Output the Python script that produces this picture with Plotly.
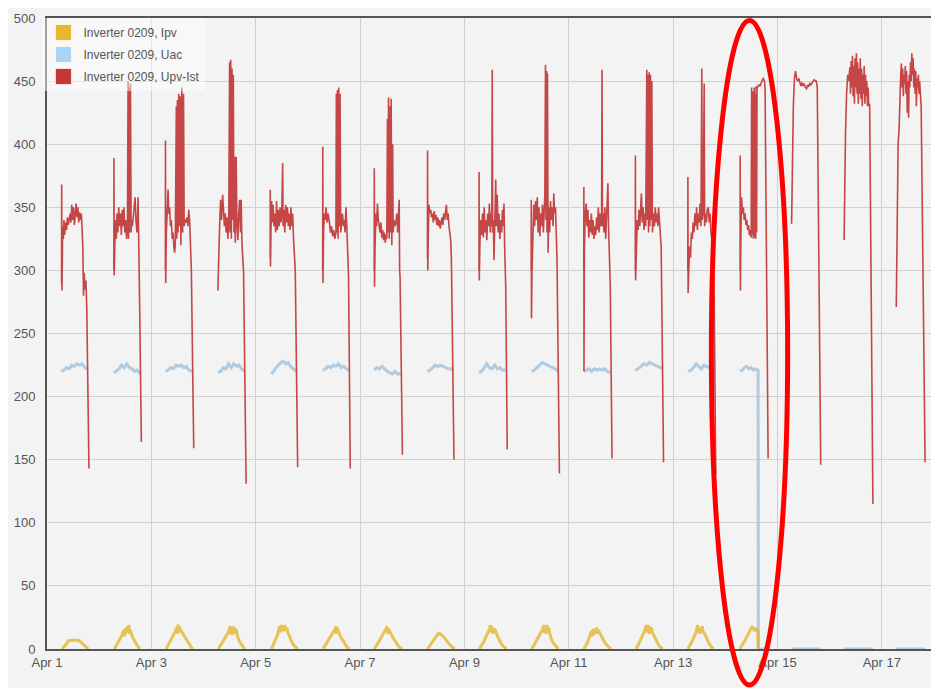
import pandas as pd
import plotly.graph_objects as go

DAYS = [f"2014-04-{d:02d}" for d in range(1, 18)]

# Inverter 0209, Upv-Ist: per-day sample hours and values (V)
upv_hours = [
    [6.70, 6.75, 6.85, 7.0, 7.2, 7.5, 7.8, 8.1, 8.5, 9.0, 9.4, 9.8, 10.2, 10.6, 11.0, 11.4, 11.8, 12.2, 12.6, 13.0, 13.4, 13.8, 14.2, 14.6, 15.0, 15.4, 15.8, 16.2, 16.5, 16.8, 17.1, 17.5, 17.9, 18.3, 19.3],
    [6.75, 6.8, 6.9, 7.2, 7.6, 7.9, 8.2, 8.6, 9.0, 9.4, 9.8, 10.2, 10.6, 11.0, 11.4, 11.8, 12.2, 12.6, 13.0, 13.3, 13.5, 13.7, 13.9, 14.1, 14.4, 14.7, 14.9, 15.3, 15.7, 16.1, 16.5, 16.9, 17.4, 17.9, 18.3, 18.7, 19.4],
    [6.45, 6.5, 6.6, 6.9, 7.3, 7.7, 8.0, 8.4, 8.8, 9.2, 9.6, 10.0, 10.4, 10.7, 11.0, 11.5, 11.7, 12.0, 12.3, 12.6, 12.9, 13.3, 13.6, 14.0, 14.4, 14.8, 15.1, 15.5, 16.0, 16.4, 16.8, 17.2, 17.6, 18.0, 18.4, 19.5],
    [6.6, 6.8, 7.0, 7.4, 7.85, 8.3, 8.8, 9.2, 9.6, 10.0, 10.4, 10.8, 11.2, 11.6, 12.0, 12.2, 12.5, 12.8, 13.1, 13.4, 13.7, 14.0, 14.3, 14.6, 15.0, 15.4, 15.8, 16.2, 16.6, 17.0, 17.3, 17.7, 18.1, 18.4, 19.6],
    [6.65, 6.7, 6.8, 7.0, 7.3, 7.6, 8.0, 8.4, 8.8, 9.2, 9.6, 10.0, 10.4, 10.8, 11.2, 11.6, 12.0, 12.4, 12.6, 13.0, 13.4, 13.8, 14.2, 14.6, 15.0, 15.4, 15.8, 16.2, 16.6, 17.0, 17.4, 17.8, 18.2, 19.3],
    [6.8, 6.85, 6.95, 7.2, 7.6, 8.0, 8.35, 8.8, 9.3, 9.9, 10.4, 10.9, 11.4, 11.9, 12.4, 12.9, 13.1, 13.3, 13.6, 13.9, 14.2, 14.5, 14.8, 15.1, 15.5, 15.9, 16.3, 16.7, 17.1, 17.5, 17.9, 18.3, 18.7, 19.5],
    [6.5, 6.55, 6.65, 6.9, 7.3, 7.6, 8.0, 8.4, 8.8, 9.2, 9.6, 10.0, 10.4, 10.8, 11.2, 11.6, 12.0, 12.3, 12.6, 12.8, 13.1, 13.4, 13.7, 14.0, 14.3, 14.6, 15.0, 15.2, 15.6, 16.0, 16.5, 16.9, 17.3, 17.7, 18.0, 18.2, 18.4, 19.5],
    [7.0, 7.05, 7.15, 7.4, 7.7, 8.1, 8.5, 8.9, 9.3, 9.7, 10.1, 10.5, 10.9, 11.3, 11.7, 12.1, 12.5, 12.9, 13.3, 13.7, 14.1, 14.5, 14.9, 15.3, 15.7, 16.1, 16.5, 16.9, 17.3, 17.7, 18.0, 19.2],
    [6.7, 6.75, 6.85, 7.1, 7.5, 7.9, 8.3, 8.7, 9.1, 9.5, 9.9, 10.3, 10.7, 11.1, 11.5, 11.9, 12.3, 12.6, 12.8, 13.0, 13.3, 13.6, 14.0, 14.4, 14.7, 15.1, 15.5, 15.9, 16.3, 16.7, 17.1, 17.5, 17.9, 18.2, 18.5, 19.0, 19.7],
    [6.7, 6.75, 6.85, 7.1, 7.5, 7.9, 8.3, 8.7, 9.1, 9.5, 9.9, 10.3, 10.7, 11.1, 11.5, 11.9, 12.3, 12.7, 13.0, 13.3, 13.5, 13.8, 14.0, 14.2, 14.5, 14.8, 15.2, 15.6, 16.0, 16.4, 16.8, 17.1, 17.5, 17.9, 18.3, 18.6, 19.7],
    [6.9, 6.95, 7.0, 7.2, 7.6, 8.0, 8.4, 8.8, 9.2, 9.6, 10.0, 10.4, 10.8, 11.2, 11.6, 12.0, 12.4, 12.8, 13.2, 13.6, 14.0, 14.4, 14.8, 15.1, 15.3, 15.5, 15.8, 16.2, 16.6, 17.0, 17.4, 17.8, 18.0, 18.3, 18.7, 19.1, 19.9],
    [6.6, 6.65, 6.75, 7.1, 7.5, 7.9, 8.3, 8.7, 9.0, 9.4, 9.8, 10.2, 10.6, 11.0, 11.4, 11.9, 12.1, 12.4, 12.7, 13.0, 13.3, 13.6, 13.9, 14.2, 14.5, 15.0, 15.4, 15.8, 16.2, 16.6, 17.0, 17.3, 17.7, 18.1, 18.5, 18.8, 19.6],
    [6.75, 6.8, 6.9, 7.2, 7.6, 8.0, 8.4, 8.8, 9.2, 9.6, 10.0, 10.4, 10.8, 11.2, 11.6, 12.0, 12.4, 12.8, 13.2, 13.4, 13.8, 14.3, 14.5, 14.9, 15.3, 15.7, 16.2, 16.6, 17.0, 17.4, 17.8, 18.2, 18.5, 18.9, 19.6],
    [6.8, 6.85, 6.95, 7.2, 7.5, 7.9, 8.3, 8.7, 9.1, 9.5, 9.9, 10.3, 10.7, 11.1, 11.5, 11.9, 12.1, 12.3, 12.7, 12.9, 13.3, 13.5, 13.8, 14.0, 14.2, 14.4, 14.6, 15.0, 15.5, 16.0, 16.5, 17.0, 17.5, 18.0, 18.3, 19.7],
    [6.5, 6.9, 7.3, 7.8, 8.3, 8.8, 9.3, 9.8, 10.3, 10.8, 11.3, 11.8, 12.3, 12.8, 13.4, 13.9, 14.4, 14.9, 15.4, 15.9, 16.4, 16.9, 17.4, 17.9, 18.3, 19.9],
    [6.65, 7.0, 7.3, 7.8, 8.3, 8.8, 9.3, 9.6, 9.9, 10.2, 10.5, 10.8, 11.1, 11.4, 11.7, 12.0, 12.3, 12.6, 12.9, 13.2, 13.5, 13.8, 14.1, 14.4, 14.7, 15.0, 15.3, 15.6, 15.9, 16.2, 16.5, 16.8, 17.1, 17.4, 17.7, 18.0, 18.4, 19.9],
    [6.65, 6.9, 7.2, 7.5, 7.9, 8.3, 8.7, 9.0, 9.3, 9.6, 9.9, 10.2, 10.5, 10.8, 11.1, 11.4, 11.7, 12.0, 12.3, 12.6, 12.9, 13.2, 13.5, 13.8, 14.1, 14.4, 14.7, 15.0, 15.3, 15.6, 15.9, 16.2, 16.5, 16.8, 17.1, 17.4, 17.8, 18.1, 19.9],
]
upv_values = [
    [290, 368, 284, 300, 335, 325, 340, 328, 338, 332, 342, 336, 340, 345, 338, 352, 340, 350, 336, 347, 353, 342, 350, 338, 346, 340, 345, 330, 318, 280, 298, 285, 292, 270, 143],
    [300, 389, 296, 320, 340, 325, 345, 330, 350, 335, 345, 328, 348, 335, 350, 330, 340, 325, 335, 450, 325, 445, 330, 440, 448, 330, 340, 335, 345, 350, 358, 340, 330, 358, 290, 262, 164],
    [300, 403, 290, 330, 355, 364, 345, 350, 335, 340, 325, 330, 318, 314, 320, 430, 325, 435, 330, 440, 335, 438, 320, 445, 330, 440, 335, 340, 338, 342, 335, 348, 340, 308, 300, 159],
    [284, 300, 314, 335, 356, 340, 360, 350, 335, 345, 330, 342, 325, 340, 465, 330, 467, 325, 460, 340, 455, 330, 390, 322, 390, 335, 324, 345, 356, 330, 356, 320, 303, 300, 131],
    [310, 364, 303, 330, 355, 338, 352, 335, 345, 330, 355, 332, 348, 335, 350, 338, 345, 385, 335, 348, 330, 352, 338, 350, 335, 345, 332, 350, 335, 345, 325, 308, 300, 144],
    [300, 398, 290, 330, 345, 340, 350, 338, 345, 338, 330, 335, 327, 332, 325, 330, 440, 330, 443, 325, 445, 335, 440, 330, 340, 345, 335, 340, 330, 350, 335, 320, 295, 143],
    [300, 381, 287, 320, 345, 335, 353, 340, 335, 330, 338, 326, 332, 324, 330, 322, 328, 325, 420, 330, 437, 325, 430, 330, 436, 320, 400, 330, 340, 335, 338, 345, 330, 350, 356, 300, 295, 154],
    [310, 395, 300, 330, 352, 345, 348, 342, 345, 338, 347, 340, 344, 336, 342, 335, 340, 333, 338, 342, 336, 345, 340, 348, 352, 340, 345, 335, 330, 324, 310, 150],
    [300, 378, 292, 320, 340, 328, 345, 326, 350, 330, 340, 324, 345, 335, 353, 330, 345, 335, 459, 330, 340, 308, 350, 372, 335, 360, 330, 345, 325, 340, 330, 348, 335, 353, 320, 287, 158],
    [300, 356, 262, 300, 340, 352, 335, 355, 340, 358, 330, 350, 327, 345, 335, 352, 330, 345, 360, 463, 340, 458, 330, 456, 314, 350, 330, 355, 340, 350, 335, 361, 345, 350, 330, 308, 139],
    [300, 366, 220, 318, 345, 353, 335, 348, 326, 340, 330, 345, 328, 340, 325, 335, 328, 342, 332, 350, 330, 345, 335, 340, 459, 335, 345, 330, 350, 325, 340, 360, 369, 335, 314, 287, 151],
    [300, 391, 292, 315, 340, 332, 348, 335, 345, 361, 338, 350, 332, 345, 335, 459, 340, 455, 330, 457, 335, 455, 340, 450, 330, 345, 335, 350, 338, 345, 335, 350, 340, 330, 319, 274, 148],
    [300, 374, 282, 300, 319, 310, 330, 325, 338, 330, 345, 335, 350, 332, 345, 338, 353, 335, 460, 340, 345, 448, 335, 345, 338, 348, 350, 338, 345, 330, 325, 312, 306, 277, 139],
    [300, 391, 284, 330, 358, 345, 350, 340, 345, 336, 340, 332, 336, 328, 332, 326, 445, 328, 442, 325, 445, 326, 440, 325, 446, 330, 444, 446, 447, 446, 449, 451, 452, 450, 445, 151],
    [337, 400, 430, 452, 458, 452, 450, 452, 448, 446, 449, 446, 448, 445, 444, 447, 446, 448, 447, 449, 450, 451, 450, 450, 445, 146],
    [324, 380, 409, 440, 455, 450, 461, 440, 466, 445, 470, 438, 462, 432, 468, 445, 472, 440, 465, 432, 460, 440, 468, 436, 460, 430, 455, 440, 462, 432, 455, 438, 450, 430, 445, 430, 432, 115],
    [271, 330, 395, 401, 410, 440, 455, 464, 445, 460, 438, 455, 448, 462, 440, 458, 425, 450, 421, 455, 445, 465, 450, 472, 455, 468, 445, 460, 440, 458, 430, 452, 445, 455, 440, 450, 435, 430, 148],
]

# Inverter 0209, Uac (V)
uac_hours = [
    [6.6, 7.8, 9.0, 10.2, 11.4, 12.6, 13.8, 15.0, 16.2, 17.4, 18.8],
    [6.7, 7.9, 9.1, 10.3, 11.5, 12.7, 13.9, 15.1, 16.3, 17.5, 18.9],
    [6.5, 7.7, 8.9, 10.1, 11.3, 12.5, 13.7, 14.9, 16.1, 17.3, 18.9],
    [6.7, 7.9, 9.1, 10.3, 11.5, 12.7, 13.9, 15.1, 16.3, 17.5, 19.0],
    [7.2, 8.3, 9.4, 10.5, 11.6, 12.7, 13.8, 14.9, 16.0, 17.2, 18.9],
    [6.9, 8.1, 9.3, 10.5, 11.7, 12.9, 14.1, 15.3, 16.5, 17.7, 19.0],
    [6.5, 7.7, 8.9, 10.1, 11.3, 12.5, 13.7, 14.9, 16.1, 17.3, 19.0],
    [7.0, 8.2, 9.4, 10.6, 11.8, 13.0, 14.2, 15.4, 16.6, 17.8, 19.0],
    [6.7, 7.9, 9.1, 10.3, 11.5, 12.7, 13.9, 15.1, 16.3, 17.5, 18.9],
    [7.0, 8.2, 9.4, 10.6, 11.8, 13.0, 14.2, 15.4, 16.6, 17.8, 19.2],
    [6.9, 8.1, 9.3, 10.5, 11.7, 12.9, 14.1, 15.3, 16.5, 17.7, 19.1],
    [6.6, 7.9, 9.2, 10.5, 11.8, 13.1, 14.4, 15.7, 17.0, 18.2, 19.4],
    [7.0, 8.2, 9.4, 10.6, 11.8, 13.0, 14.2, 15.4, 16.6, 17.8, 19.2],
    [6.8, 7.8, 8.8, 9.8, 10.8, 11.8, 12.8, 13.8, 15.1, 15.2, 19.0],
    [6.6, 19.9],
    [6.5, 19.9],
    [6.4, 19.9],
]
uac_values = [
    [220, 221, 223, 222, 225, 224, 226, 225, 226, 223, 222],
    [219, 220, 222, 225, 223, 226, 223, 222, 220, 221, 218],
    [220, 221, 223, 222, 225, 224, 225, 223, 224, 221, 220],
    [219, 220, 223, 222, 226, 223, 226, 224, 225, 222, 220],
    [218, 220, 223, 225, 227, 228, 226, 227, 224, 222, 220],
    [221, 222, 224, 223, 225, 224, 226, 223, 224, 222, 221],
    [221, 223, 222, 224, 222, 220, 219, 218, 220, 218, 218],
    [220, 221, 223, 225, 224, 225, 224, 223, 222, 222, 221],
    [219, 220, 223, 226, 223, 222, 225, 222, 223, 221, 221],
    [220, 221, 223, 225, 227, 226, 225, 224, 223, 222, 220],
    [220, 221, 222, 220, 222, 221, 222, 221, 222, 220, 219],
    [221, 222, 224, 226, 225, 227, 226, 225, 224, 223, 222],
    [220, 221, 223, 226, 224, 222, 225, 224, 223, 222, 221],
    [220, 221, 223, 224, 222, 223, 221, 222, 221, 0, 0],
    [0, 0],
    [0, 0],
    [0, 0],
]

# Inverter 0209, Ipv (A) - only until the failure on Apr 14
ipv_hours = [
    [7.0, 8.0, 9.0, 10.0, 11.0, 12.0, 13.0, 14.0, 15.0, 16.0, 17.0, 18.0, 19.0],
    [7.0, 8.0, 9.0, 10.0, 10.8, 11.3, 11.6, 11.9, 12.2, 12.5, 12.8, 13.1, 13.4, 13.7, 14.0, 14.4, 15.0, 16.0, 17.0, 18.0, 18.8],
    [6.8, 8.0, 9.0, 10.0, 11.0, 11.5, 11.8, 12.1, 12.4, 12.7, 13.0, 13.3, 13.6, 14.5, 15.5, 16.5, 17.5, 18.5, 19.2],
    [6.8, 8.0, 9.0, 10.0, 11.0, 11.8, 12.2, 12.5, 12.8, 13.1, 13.5, 13.8, 14.2, 14.6, 15.0, 15.6, 16.5, 17.5, 18.5, 19.0],
    [7.2, 8.0, 9.0, 10.0, 10.6, 11.0, 11.4, 11.8, 12.2, 12.6, 13.0, 13.4, 13.8, 14.3, 14.8, 15.5, 16.5, 17.5, 18.5, 19.3],
    [6.9, 8.0, 9.0, 10.0, 11.0, 12.0, 12.6, 12.9, 13.1, 13.4, 14.0, 15.0, 16.0, 17.0, 18.0, 19.1],
    [6.6, 8.0, 9.0, 10.0, 11.0, 11.8, 12.2, 12.5, 12.8, 13.1, 13.6, 14.5, 15.5, 16.5, 17.5, 18.5, 19.3],
    [7.0, 8.0, 9.0, 10.0, 11.0, 12.0, 13.0, 14.0, 15.0, 16.0, 17.0, 18.0, 19.5],
    [6.8, 8.0, 9.0, 10.0, 11.0, 11.6, 11.9, 12.2, 12.5, 12.8, 13.1, 13.4, 13.8, 14.2, 15.0, 16.0, 17.0, 18.0, 19.4],
    [7.0, 8.0, 9.0, 10.0, 11.0, 11.8, 12.2, 12.5, 12.8, 13.1, 13.5, 13.9, 14.3, 14.8, 15.3, 16.0, 17.0, 18.0, 19.2],
    [6.8, 8.0, 9.0, 10.0, 10.4, 10.8, 11.2, 11.6, 12.0, 12.4, 12.8, 13.2, 13.6, 14.2, 15.0, 16.0, 17.0, 18.0, 19.4],
    [7.0, 8.0, 9.0, 10.0, 11.0, 11.6, 11.9, 12.2, 12.5, 12.8, 13.1, 13.5, 13.9, 14.5, 15.5, 16.5, 17.5, 18.5, 19.2],
    [6.8, 8.0, 9.0, 10.0, 10.8, 11.2, 11.5, 11.8, 12.1, 12.5, 12.9, 13.3, 13.7, 14.5, 15.5, 16.5, 17.5, 18.4],
    [6.6, 8.0, 9.0, 10.0, 11.0, 12.0, 12.4, 12.8, 13.2, 13.6, 14.0, 14.5, 15.0, 15.2],
]
ipv_values = [
    [0, 2, 4.5, 6.5, 7, 7, 7.5, 7, 6.5, 5, 3, 1.5, 0],
    [0, 3, 6, 9, 12, 15, 10, 16, 12, 17, 13, 18, 14, 19, 12, 15, 11, 7, 4, 1.5, 0],
    [0, 4, 7, 11, 14, 17, 12, 18, 19, 14, 18, 13, 15, 12, 9, 6, 3, 1, 0],
    [0, 3, 6, 9, 12, 15, 18, 12, 17, 11, 18, 13, 17, 12, 16, 10, 6, 3, 1, 0],
    [0, 3, 7, 11, 15, 18, 13, 19, 15, 18, 14, 19, 15, 17, 13, 10, 6, 3, 1, 0],
    [0, 3, 6, 9, 12, 15, 16, 18, 12, 17, 14, 10, 7, 4, 1.5, 0],
    [0, 3.5, 7, 10, 13, 15, 17, 16.5, 12, 16, 14, 11, 8, 5, 2.5, 1, 0],
    [0, 2.5, 5, 8, 10.5, 12.4, 12, 10.5, 8.5, 6, 4, 2, 0],
    [0, 3, 6, 10, 14, 16, 19, 13, 18, 14, 17, 12, 16, 15, 11, 7, 4, 2, 0],
    [0, 3, 6, 9, 12, 15, 17, 19, 13, 18, 12, 19, 14, 17, 12, 8, 4.5, 2, 0],
    [0, 3, 7, 11, 14, 10, 16, 11, 15, 13, 17, 12, 15, 13, 10, 7, 4, 2, 0],
    [0, 3, 7, 11, 15, 19, 13, 18, 14, 19, 12, 16, 17, 13, 9, 5, 2.5, 1, 0],
    [0, 3.5, 7, 11, 15, 19, 13, 17, 12, 16, 13, 18, 14, 12, 8, 4.5, 2, 0],
    [0, 3.5, 6.5, 10, 13, 16, 18, 15, 17, 14, 17, 15, 14, 0],
]

LEGEND_NAMES = ["Inverter 0209, Ipv", "Inverter 0209, Uac", "Inverter 0209, Upv-Ist"]
SWATCH_COLORS = ["#e8b632", "#a9d4f5", "#c63636"]

IPV_LINE = "rgba(228,182,45,0.8)"
UAC_LINE = "rgba(165,195,220,0.85)"
UPV_LINE = "#c44646"
GRID = "#d0d0d0"
AXIS = "#555555"
FONT = "Liberation Sans, Arial, sans-serif"


def day_series(days, hours, values):
    xs, ys = [], []
    for day, hs, vs in zip(days, hours, values):
        base = pd.Timestamp(day)
        xs += [base + pd.Timedelta(hours=h) for h in hs] + [None]
        ys += list(vs) + [None]
    return xs, ys


fig = go.Figure()

x, y = day_series(DAYS, uac_hours, uac_values)
fig.add_trace(go.Scatter(x=x, y=y, mode="lines", line=dict(color=UAC_LINE, width=3),
                         showlegend=False, hoverinfo="skip"))
x, y = day_series(DAYS[:14], ipv_hours, ipv_values)
fig.add_trace(go.Scatter(x=x, y=y, mode="lines", line=dict(color=IPV_LINE, width=3),
                         showlegend=False, hoverinfo="skip"))
x, y = day_series(DAYS, upv_hours, upv_values)
fig.add_trace(go.Scatter(x=x, y=y, mode="lines", line=dict(color=UPV_LINE, width=1.6),
                         showlegend=False, hoverinfo="skip"))

# square legend swatches
for name, color in zip(LEGEND_NAMES, SWATCH_COLORS):
    fig.add_trace(go.Scatter(
        x=[None], y=[None], mode="markers", name=name, legendgroup=name,
        marker=dict(symbol="square", size=16, color=color,
                    line=dict(color="rgba(255,255,255,0.7)", width=1)),
    ))

# red hand-drawn ellipse around Apr 14
fig.add_shape(type="circle", xref="paper", yref="paper",
              x0=0.749, x1=0.835, y0=-0.057, y1=0.996,
              line=dict(color="#ff0000", width=5))

# page body has an 8px margin, so the figure is sized to fit inside it
fig.update_layout(
    width=931, height=680,
    paper_bgcolor="#f3f3f3", plot_bgcolor="#f3f3f3",
    margin=dict(l=39, r=3, t=9, b=39),
    font=dict(family=FONT, size=13, color="#555555"),
    showlegend=True,
    legend=dict(x=-0.004, y=1.0, xanchor="left", yanchor="top",
                bgcolor="rgba(255,255,255,0.45)", borderwidth=0,
                font=dict(size=12, color="#555555"), traceorder="grouped",
                tracegroupgap=3),
    xaxis=dict(
        range=["2014-04-01", "2014-04-18"], type="date",
        tick0="2014-04-01", dtick=2 * 86400000, tickformat="%b %-d",
        showgrid=True, gridcolor=GRID, gridwidth=1,
        showline=True, linecolor=AXIS, linewidth=2, mirror=True,
        ticks="", zeroline=False,
    ),
    yaxis=dict(
        range=[0, 500], dtick=50,
        showgrid=True, gridcolor=GRID, gridwidth=1,
        showline=True, linecolor=AXIS, linewidth=2, mirror=True,
        ticks="outside", ticklen=7, tickcolor="rgba(0,0,0,0)", zeroline=False,
    ),
)

fig.write_html("out.html")
